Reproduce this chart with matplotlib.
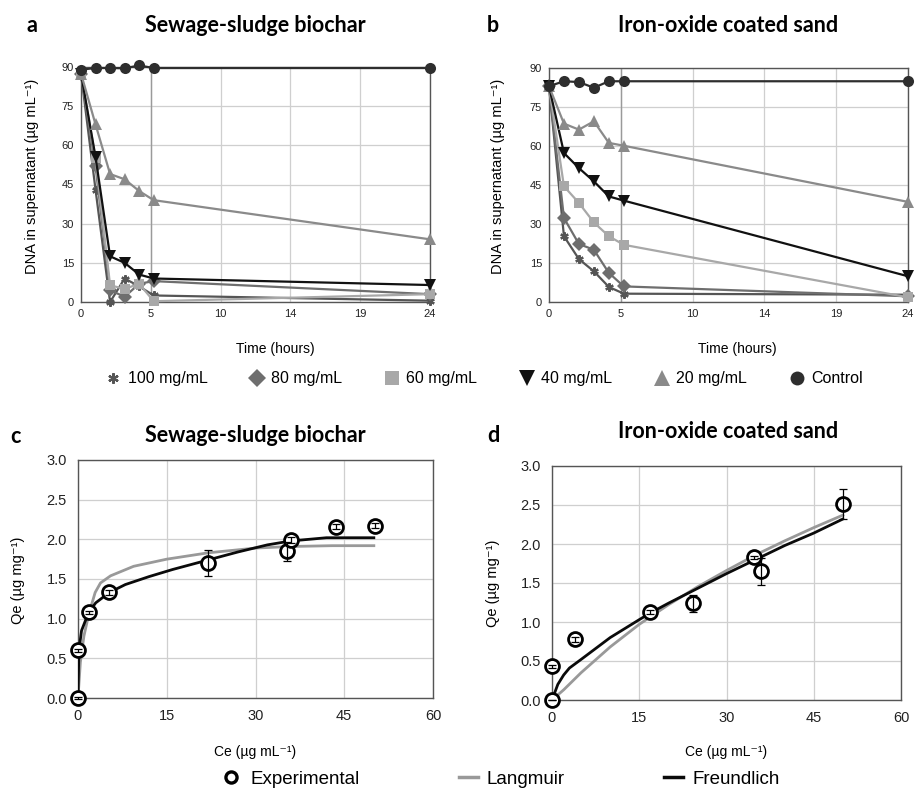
import numpy as np
import matplotlib
matplotlib.use("Agg")
import matplotlib.pyplot as plt
from matplotlib.lines import Line2D

plt.rcParams['font.family'] = ['Liberation Sans', 'DejaVu Sans']

# ---- data: kinetics (panels a, b) ----
hours = [0, 1, 2, 3, 4, 5, 24]
doses = ['100 mg/mL', '80 mg/mL', '60 mg/mL', '40 mg/mL', '20 mg/mL', 'Control']

a_100 = [87.5, 43, 0, 9, 6, 2.5, 0.5]
a_80 = [87.5, 52, 4.5, 2, 7, 8, 3]
a_60 = [87.5, 55, 6.4, 5, 7, 0.3, 3]
a_40 = [87.5, 55.5, 17.5, 15, 10.5, 9, 6.5]
a_20 = [87.5, 68, 49, 47, 42.5, 39, 24]
a_ctrl = [89, 89.6, 89.6, 89.5, 90.6, 89.6, 89.6]

b_100 = [83, 25.3, 16.5, 11.8, 5.8, 3.2, 2.8]
b_80 = [83, 32.3, 22.3, 20.1, 11.2, 6, 2.2]
b_60 = [83, 44.5, 38.1, 30.6, 25.3, 22, 1.8]
b_40 = [83, 57.3, 51.5, 46.4, 40.6, 39, 9.9]
b_20 = [83, 68.6, 66.3, 69.5, 61.2, 60.1, 38.5]
b_ctrl = [83, 84.9, 84.6, 82.4, 84.9, 84.9, 84.9]

# ---- data: isotherms (panels c, d) ----
c_ce = [0, 0, 1.8, 5.3, 21.9, 35.3, 36.0, 43.6, 50.2]
c_qe = [0, 0.6, 1.08, 1.33, 1.70, 1.85, 1.99, 2.16, 2.17]
c_err = [0.01, 0.02, 0.02, 0.03, 0.16, 0.12, 0.04, 0.03, 0.03]
c_lang_x = [0, 0.4, 1, 1.8, 2.9, 3.8, 5.5, 9.4, 15, 22, 30, 36, 43, 50]
c_lang_y = [0, 0.45, 0.78, 1.05, 1.33, 1.45, 1.54, 1.66, 1.75, 1.83, 1.89, 1.91, 1.92, 1.92]
c_freu_x = [0, 0.15, 0.6, 1.8, 3, 5.3, 8, 12, 16, 22, 27, 32, 36, 42, 50]
c_freu_y = [0, 0.6, 0.85, 1.08, 1.2, 1.33, 1.43, 1.53, 1.62, 1.74, 1.84, 1.93, 1.98, 2.02, 2.02]

d_ce = [0, 0, 4.0, 16.8, 24.2, 34.7, 36.0, 50.0]
d_qe = [0, 0.43, 0.78, 1.13, 1.24, 1.83, 1.65, 2.51]
d_err = [0.005, 0.02, 0.03, 0.03, 0.11, 0.02, 0.17, 0.19]
d_lang_x = [0, 2, 5, 10, 15, 20, 25, 30, 35, 40, 45, 50]
d_lang_y = [0, 0.13, 0.35, 0.68, 0.97, 1.22, 1.45, 1.66, 1.86, 2.04, 2.21, 2.37]
d_freu_x = [0, 1, 2, 3, 5, 10, 15, 17, 20, 25, 30, 35, 40, 45, 50]
d_freu_y = [0, 0.2, 0.32, 0.41, 0.52, 0.8, 1.03, 1.12, 1.24, 1.43, 1.62, 1.8, 1.98, 2.14, 2.32]

W, H = 917, 806
fig = plt.figure(figsize=(W / 100, H / 100), dpi=100)


def box(l, t, r, b):
    # pixel box -> figure fraction
    return [l / W, 1 - b / H, (r - l) / W, (b - t) / H]


styles = [
    dict(color='#555555', marker=(6, 2, 0), ms=6, mew=1.6),
    dict(color='#6e6e6e', marker='D', ms=7.5, mew=0),
    dict(color='#a8a8a8', marker='s', ms=7.5, mew=0),
    dict(color='#111111', marker='v', ms=9, mew=0),
    dict(color='#8a8a8a', marker='^', ms=9, mew=0),
    dict(color='#2e2e2e', marker='o', ms=8, mew=0),
]


def kinetics(rect, series):
    ax = fig.add_axes(rect)
    for ys, st in zip(series, styles):
        ax.plot(hours, ys, lw=1.6, clip_on=False, zorder=3, **st)
    ax.set_xlim(0, 24)
    ax.set_ylim(0, 90)
    ax.set_xticks(np.arange(0, 24.01, 4.8))
    ax.set_xticklabels(['%.0f' % t for t in np.arange(0, 24.01, 4.8)])
    ax.set_yticks(np.arange(0, 91, 15))
    ax.grid(True, color='#cfcfcf', lw=0.9)
    ax.axvline(4.8, color='#9a9a9a', lw=1.0, zorder=1)
    ax.set_axisbelow(True)
    ax.tick_params(length=0, labelsize=8, pad=5, colors='#222222')
    for s in ax.spines.values():
        s.set_color('#555555')
        s.set_linewidth(1.0)
    return ax


def isotherm(rect, ce, qe, err, lx, ly, fx, fy):
    ax = fig.add_axes(rect)
    ax.plot(lx, ly, color='#999999', lw=2.0, zorder=3)
    ax.plot(fx, fy, color='#0a0a0a', lw=2.0, zorder=4)
    ax.plot(ce, qe, 'o', ms=10, mfc='white', mec='black', mew=2.0, zorder=5, clip_on=False)
    ax.errorbar(ce, qe, yerr=err, fmt='none', ecolor='black', elinewidth=0.9,
                capsize=3, capthick=0.9, zorder=6, clip_on=False)
    ax.set_xlim(0, 60)
    ax.set_ylim(0, 3)
    ax.set_xticks([0, 15, 30, 45, 60])
    ax.set_yticks(np.arange(0, 3.01, 0.5))
    ax.set_yticklabels(['%.1f' % v for v in np.arange(0, 3.01, 0.5)])
    ax.grid(True, color='#cfcfcf', lw=0.9)
    ax.set_axisbelow(True)
    ax.tick_params(length=0, labelsize=10.5, pad=8, colors='#222222')
    for s in ax.spines.values():
        s.set_color('#555555')
        s.set_linewidth(1.0)
    return ax


kinetics(box(81, 67, 430, 302), [a_100, a_80, a_60, a_40, a_20, a_ctrl])
kinetics(box(549, 68, 908, 302), [b_100, b_80, b_60, b_40, b_20, b_ctrl])
isotherm(box(78, 460, 433, 698), c_ce, c_qe, c_err, c_lang_x, c_lang_y, c_freu_x, c_freu_y)
isotherm(box(552, 466, 901, 700), d_ce, d_qe, d_err, d_lang_x, d_lang_y, d_freu_x, d_freu_y)


def ftext(x, y, s, **kw):
    fig.text(x / W, 1 - y / H, s, ha='center', va='center', **kw)


title_kw = dict(family=['Lato', 'DejaVu Sans'], weight='bold', fontsize=15.5)
ftext(255, 25, 'Sewage-sludge biochar', **title_kw)
ftext(728, 25, 'Iron-oxide coated sand', **title_kw)
ftext(255, 436, 'Sewage-sludge biochar', **title_kw)
ftext(728, 432, 'Iron-oxide coated sand', **title_kw)
ftext(32, 25, 'a', **title_kw)
ftext(493, 25, 'b', **title_kw)
ftext(15, 437, 'c', **title_kw)
ftext(493, 435, 'd', **title_kw)

ylab_ab = 'DNA in supernatant (µg mL⁻¹)'
ftext(32, 176, ylab_ab, rotation=90, fontsize=10.5)
ftext(498, 176, ylab_ab, rotation=90, fontsize=10.5)
ftext(275, 349, 'Time (hours)', fontsize=10)
ftext(737, 349, 'Time (hours)', fontsize=10)

ylab_cd = 'Qe (µg mg⁻¹)'
ftext(18, 580, ylab_cd, rotation=90, fontsize=10.5)
ftext(493, 583, ylab_cd, rotation=90, fontsize=10.5)
ftext(255, 752, 'Ce (µg mL⁻¹)', fontsize=10)
ftext(726, 752, 'Ce (µg mL⁻¹)', fontsize=10)

# legend for kinetics (slightly larger markers than in the plot)
handles = [Line2D([], [], ls='none', **st) for st in styles]
fig.legend(handles, doses, loc='center', bbox_to_anchor=(484 / W, 1 - 379 / H), ncol=6,
           frameon=False, fontsize=11.5, handletextpad=0.4, columnspacing=2.6,
           handlelength=1.0, markerscale=1.25)

# legend for isotherms
iso_handles = [
    Line2D([], [], ls='none', marker='o', ms=8, mfc='white', mec='black', mew=2.4),
    Line2D([], [], color='#999999', lw=2.5),
    Line2D([], [], color='#0a0a0a', lw=2.5),
]
fig.legend(iso_handles, ['Experimental', 'Langmuir', 'Freundlich'], loc='center',
           bbox_to_anchor=(501 / W, 1 - 779 / H), ncol=3, frameon=False, fontsize=13.5,
           handletextpad=0.5, columnspacing=5.3, handlelength=1.0)

fig.savefig('out.png', dpi=100)
